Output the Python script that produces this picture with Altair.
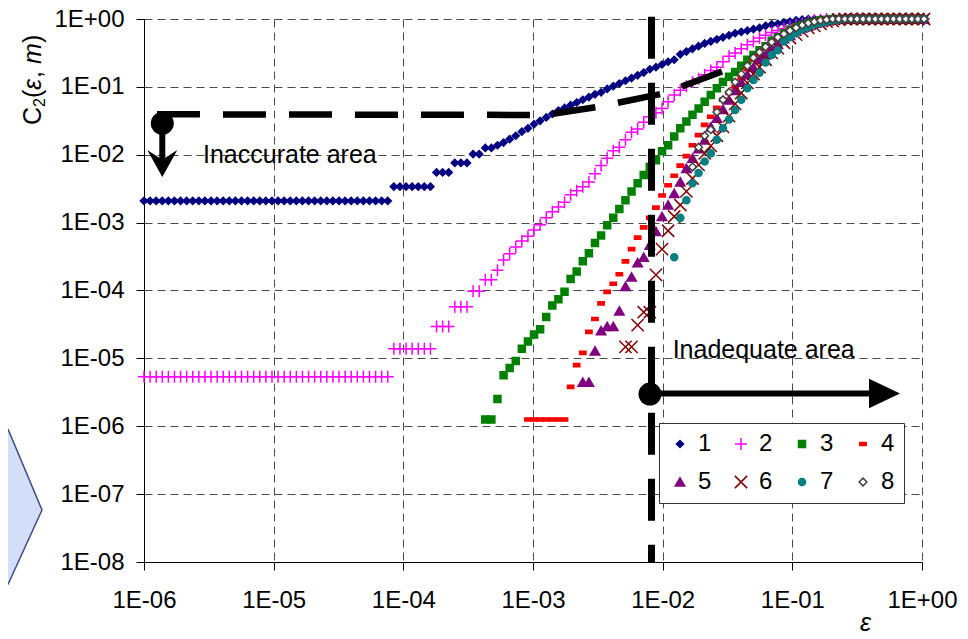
import altair as alt
import pandas as pd

# ---------------- data ----------------
# common log10(epsilon) grid used by every series
LOG_EPS = [
    -6.000, -5.953, -5.906, -5.859, -5.812, -5.765, -5.718, -5.671, -5.624, -5.577,
    -5.530, -5.483, -5.436, -5.389, -5.342, -5.295, -5.248, -5.201, -5.154, -5.107,
    -5.060, -5.013, -4.966, -4.919, -4.872, -4.825, -4.778, -4.731, -4.684, -4.637,
    -4.590, -4.543, -4.496, -4.449, -4.402, -4.355, -4.308, -4.261, -4.214, -4.167,
    -4.120, -4.073, -4.026, -3.979, -3.932, -3.885, -3.838, -3.791, -3.744, -3.697,
    -3.650, -3.603, -3.556, -3.509, -3.462, -3.415, -3.368, -3.321, -3.274, -3.227,
    -3.180, -3.133, -3.086, -3.039, -2.992, -2.945, -2.898, -2.851, -2.804, -2.757,
    -2.710, -2.663, -2.616, -2.569, -2.522, -2.475, -2.428, -2.381, -2.334, -2.287,
    -2.240, -2.193, -2.146, -2.099, -2.052, -2.005, -1.958, -1.911, -1.864, -1.817,
    -1.770, -1.723, -1.676, -1.629, -1.582, -1.535, -1.488, -1.441, -1.394, -1.347,
    -1.300, -1.253, -1.206, -1.159, -1.112, -1.065, -1.018, -0.971, -0.924, -0.877,
    -0.830, -0.783, -0.736, -0.689, -0.642, -0.595, -0.548, -0.501, -0.454, -0.407,
    -0.360, -0.313, -0.266, -0.219, -0.172, -0.125, -0.078, -0.031, 0.016,
]

SERIES_NAMES = ["1", "2", "3", "4", "5", "6", "7", "8"]
# index in LOG_EPS of the first plotted point of each series
START_INDEX = [0, 0, 56, 63, 72, 79, 87, 90]

# log10 C2(eps, m) for m = 1..8
LOG_C_1 = [-2.68] * 41 + [-2.47] * 7 + [-2.26] * 3 + [-2.12] * 3 + [-1.99] * 2 + [-1.90] * 2 + [
    -1.86, -1.82, -1.77, -1.72, -1.66, -1.61, -1.55, -1.50, -1.45, -1.40,
    -1.35, -1.31, -1.27, -1.23, -1.19, -1.15, -1.11, -1.08, -1.03, -0.99,
    -0.95, -0.91, -0.87, -0.83, -0.79, -0.74, -0.71, -0.67, -0.63, -0.60,
    -0.52, -0.48, -0.44, -0.40, -0.36, -0.33, -0.30, -0.27, -0.24, -0.21,
    -0.19, -0.17, -0.15, -0.13, -0.10, -0.08, -0.07, -0.05, -0.04, -0.02,
    -0.01] + [0.0] * 20
LOG_C_2 = [-5.27] * 41 + [-4.86] * 7 + [-4.53] * 3 + [-4.24] * 3 + [-4.01] * 2 + [-3.84] * 2 + [
    -3.70, -3.55, -3.46, -3.36, -3.27, -3.20, -3.11, -3.03, -2.93, -2.84,
    -2.77, -2.70, -2.59, -2.53, -2.47, -2.40, -2.28, -2.16, -2.05, -1.94,
    -1.89, -1.78, -1.67, -1.62, -1.52, -1.44, -1.38, -1.32, -1.22, -1.12,
    -1.05, -0.99, -0.93, -0.88, -0.82, -0.76, -0.71, -0.63, -0.55, -0.50,
    -0.44, -0.38, -0.33, -0.28, -0.24, -0.20, -0.17, -0.14, -0.11, -0.09,
    -0.07, -0.04, -0.02, -0.01] + [0.0] * 17
LOG_C_3 = [
    -5.90, -5.90, -5.60, -5.25, -5.14, -5.04, -4.86, -4.75, -4.65, -4.57,
    -4.39, -4.22, -4.13, -4.02, -3.83, -3.72, -3.57, -3.45, -3.30, -3.19,
    -3.04, -2.93, -2.80, -2.67, -2.54, -2.42, -2.30, -2.18, -2.08, -1.95,
    -1.86, -1.73, -1.61, -1.51, -1.41, -1.32, -1.22, -1.12, -1.02, -0.93,
    -0.85, -0.78, -0.69, -0.60, -0.53, -0.46, -0.40, -0.32, -0.27, -0.21,
    -0.16, -0.12, -0.09, -0.06, -0.04, -0.02, -0.01] + [0.0] * 16
LOG_C_4 = [-5.90] * 7 + [
    -5.42, -5.10, -4.92, -4.61, -4.42, -4.19, -4.02, -3.90, -3.76, -3.57,
    -3.39, -3.22, -3.07, -2.93, -2.78, -2.60, -2.45, -2.31, -2.16, -2.02,
    -1.86, -1.71, -1.56, -1.44, -1.31, -1.19, -1.09, -1.00, -0.87, -0.74,
    -0.60, -0.52, -0.43, -0.35, -0.29, -0.23, -0.18, -0.13, -0.10, -0.07,
    -0.04, -0.02, -0.01] + [0.0] * 16
LOG_C_5 = [
    -5.35, -5.35, -4.89, -4.59, -4.53, -4.53, -4.30, -3.94, -3.80, -3.59,
    -3.51, -3.33, -3.13, -2.91, -2.74, -2.57, -2.40, -2.20, -2.05, -1.91,
    -1.78, -1.59, -1.46, -1.33, -1.19, -1.05, -0.93, -0.82, -0.71, -0.60,
    -0.53, -0.44, -0.37, -0.29, -0.24, -0.18, -0.13, -0.10, -0.06, -0.04,
    -0.02, -0.01] + [0.0] * 15
LOG_C_6 = [
    -4.83, -4.83, -4.51, -4.32, -4.32, -3.77, -3.39, -3.12, -2.91, -2.74,
    -2.54, -2.35, -2.15, -1.98, -1.87, -1.72, -1.59, -1.43, -1.25, -1.09,
    -0.94, -0.81, -0.71, -0.60, -0.50, -0.43, -0.35, -0.28, -0.23, -0.18,
    -0.13, -0.10, -0.07, -0.04, -0.03, -0.01] + [0.0] * 14
LOG_C_7 = [
    -3.51, -2.93, -2.67, -2.42, -2.27, -2.10, -1.98, -1.78, -1.61, -1.48,
    -1.34, -1.19, -1.02, -0.90, -0.79, -0.64, -0.53, -0.46, -0.33, -0.27,
    -0.21, -0.15, -0.12, -0.08, -0.06, -0.04, -0.02, -0.01] + [0.0] * 14
LOG_C_8 = [
    -2.18, -1.89, -1.72, -1.63, -1.37, -1.19, -1.08, -0.93, -0.81, -0.69,
    -0.57, -0.49, -0.41, -0.34, -0.27, -0.22, -0.17, -0.13, -0.09, -0.06,
    -0.04, -0.02, -0.01] + [0.0] * 16
ALL_LOG_C = [LOG_C_1, LOG_C_2, LOG_C_3, LOG_C_4, LOG_C_5, LOG_C_6, LOG_C_7, LOG_C_8]

X_TICKS = [1e-6, 1e-5, 1e-4, 1e-3, 1e-2, 1e-1, 1.0]
Y_TICKS = [1e-8, 1e-7, 1e-6, 1e-5, 1e-4, 1e-3, 1e-2, 1e-1, 1.0]

# annotation geometry (log10 eps, log10 C)
INACCURATE_LINE_LOG_EPS = [-5.900, -2.908, -2.483, -1.998, -1.512]
INACCURATE_LINE_LOG_C = [-1.404, -1.414, -1.289, -1.098, -0.751]
INADEQUATE_LOG_EPS = -2.086

# ---------------- styles ----------------
STROKES = ["#000080", "#FF00FF", "#008000", "#FF0000", "#800080", "#800000", "#008080", "#404040"]
FILLS = ["#000080", "transparent", "#008000", "#FF0000", "#800080", "transparent", "#008080", "white"]
SHAPES = ["diamond", "M-1,0H1M0,-1V1", "square", "M-1,-0.5H1V0.5H-1Z",
          "triangle-up", "M-1,-1L1,1M-1,1L1,-1", "circle", "diamond"]
SIZES = [50, 144, 49, 40, 90, 150, 50, 60]
FONT = "Liberation Sans"

rows = []
for name, start, vals in zip(SERIES_NAMES, START_INDEX, ALL_LOG_C):
    for j, v in enumerate(vals):
        rows.append({"series": name, "eps": 10 ** LOG_EPS[start + j], "C": 10 ** v})
df = pd.DataFrame(rows)

xscale = alt.Scale(type="log", domain=[1e-6, 1.0], nice=False)
yscale = alt.Scale(type="log", domain=[1e-8, 1.0], nice=False)
label_expr = "'1E' + (datum.value >= 0.999 ? '+00' : '-0' + format(-log(datum.value) / LN10, '.0f'))"

axis_common = dict(
    grid=True, gridDash=[8, 5], gridColor="#4a4a4a", gridWidth=1,
    domainColor="black", domainWidth=1, tickColor="black", tickSize=8, tickWidth=1,
    labelFont=FONT, labelFontSize=24, labelColor="black", labelExpr=label_expr,
    labelFlush=False, labelOverlap=False, title=None,
)
xaxis = alt.Axis(values=X_TICKS, labelPadding=18, **axis_common)
yaxis = alt.Axis(values=Y_TICKS, labelPadding=12, **axis_common)

legend = alt.Legend(
    title=None, orient="none", legendX=515, legendY=404, columns=4, direction="horizontal",
    labelFont=FONT, labelFontSize=24, labelColor="black", labelOffset=6,
    strokeColor="#333333", fillColor="white", padding=9, columnPadding=17, rowPadding=14,
    symbolStrokeWidth=1.5, cornerRadius=0,
)

series_scale_kw = dict(domain=SERIES_NAMES, type="ordinal")
points = alt.Chart(df).mark_point(filled=True, opacity=1, strokeWidth=1.5).encode(
    x=alt.X("eps:Q", scale=xscale, axis=xaxis),
    y=alt.Y("C:Q", scale=yscale, axis=yaxis),
    shape=alt.Shape("series:N", scale=alt.Scale(domain=SERIES_NAMES, range=SHAPES), legend=legend),
    fill=alt.Fill("series:N", scale=alt.Scale(domain=SERIES_NAMES, range=FILLS), legend=legend),
    stroke=alt.Stroke("series:N", scale=alt.Scale(domain=SERIES_NAMES, range=STROKES), legend=legend),
    size=alt.Size("series:N", scale=alt.Scale(range=SIZES, **series_scale_kw), legend=legend),
)

# --- annotations (share the scales and axes of the points layer) ---
hline_df = pd.DataFrame({
    "eps": [10 ** v for v in INACCURATE_LINE_LOG_EPS],
    "C": [10 ** v for v in INACCURATE_LINE_LOG_C],
    "k": list(range(len(INACCURATE_LINE_LOG_EPS))),
})
hline = alt.Chart(hline_df).mark_line(color="black", strokeWidth=6.5, strokeDash=[43, 23]).encode(
    x="eps:Q", y="C:Q", order="k:Q",
)

vline_df = pd.DataFrame({"eps": [10 ** INADEQUATE_LOG_EPS], "C": [10 ** 0.034], "C2": [1e-8]})
vline = alt.Chart(vline_df).mark_rule(color="black", strokeWidth=7, strokeDash=[42, 24]).encode(
    x="eps:Q", y="C:Q", y2="C2:Q",
)

shaft_df = pd.DataFrame({
    "eps": [10 ** -5.859, 10 ** -2.098],
    "eps2": [10 ** -5.859, 10 ** -0.386],
    "C": [10 ** -1.537, 10 ** -5.517],
    "C2": [10 ** -2.077, 10 ** -5.517],
})
shafts = alt.Chart(shaft_df).mark_rule(color="black", strokeWidth=6).encode(
    x="eps:Q", x2="eps2:Q", y="C:Q", y2="C2:Q",
)

dots_df = pd.DataFrame({"eps": [10 ** -5.859, 10 ** -2.098], "C": [10 ** -1.537, 10 ** -5.525]})
dots = alt.Chart(dots_df).mark_point(shape="circle", filled=True, color="black", opacity=1, size=529).encode(
    x="eps:Q", y="C:Q",
)

head_down = alt.Chart(pd.DataFrame({"eps": [10 ** -5.859], "C": [10 ** -2.129]})).mark_point(
    shape="M-1,-0.9L0,-0.25L1,-0.9L0,0.9Z", filled=True, color="black", opacity=1, size=900
).encode(x="eps:Q", y="C:Q")

head_right = alt.Chart(pd.DataFrame({"eps": [10 ** -0.289], "C": [10 ** -5.517]})).mark_point(
    shape="M-1,-0.95L1,0L-1,0.95Z", filled=True, color="black", opacity=1, size=961
).encode(x="eps:Q", y="C:Q")

labels_df = pd.DataFrame({
    "eps": [10 ** -5.545, 10 ** -1.923],
    "C": [10 ** -2.1215, 10 ** -4.999],
    "t": ["Inaccurate area", "Inadequate area"],
})
area_labels = alt.Chart(labels_df).mark_text(
    align="left", baseline="alphabetic", font=FONT, fontSize=25, color="black"
).encode(x="eps:Q", y="C:Q", text="t:N")

# --- axis titles built from text pieces (pixel offsets from the plot origin) ---
one = pd.DataFrame({"a": [0]})


def piece(text, px, py, size=25, italic=False, angle=270):
    return alt.Chart(one).mark_text(
        text=text, align="left", baseline="alphabetic", font=FONT, fontSize=size,
        fontStyle="italic" if italic else "normal", angle=angle, color="black",
    ).encode(x=alt.value(px), y=alt.value(py))


title_pieces = [
    piece("C", -103, 106),
    piece("2", -99, 88, size=16),
    piece("(", -103, 79),
    piece("ε", -103, 71, italic=True),
    piece(",", -103, 59),
    piece("m", -103, 45, italic=True),
    piece(")", -103, 24),
    piece("ε", 716, 612, italic=True, angle=0),
]

chevron = alt.Chart(one).mark_point(
    shape="M-17,-77.75L17,3.25L-17,77.75", filled=True, fill="#D3DEF8", stroke="#3F4B8C",
    strokeWidth=1.5, opacity=1, size=4,
).encode(x=alt.value(-119), y=alt.value(487.75))

chart = alt.layer(
    points, hline, vline, shafts, dots, head_down, head_right, area_labels, chevron, *title_pieces
).properties(
    width=778, height=543,
    autosize=alt.AutoSizeParams(type="none"),
    padding={"left": 136, "top": 11, "right": 38, "bottom": 74},
).configure_view(stroke=None)

chart.save("out.html", embed_options={"renderer": "svg", "actions": False})
